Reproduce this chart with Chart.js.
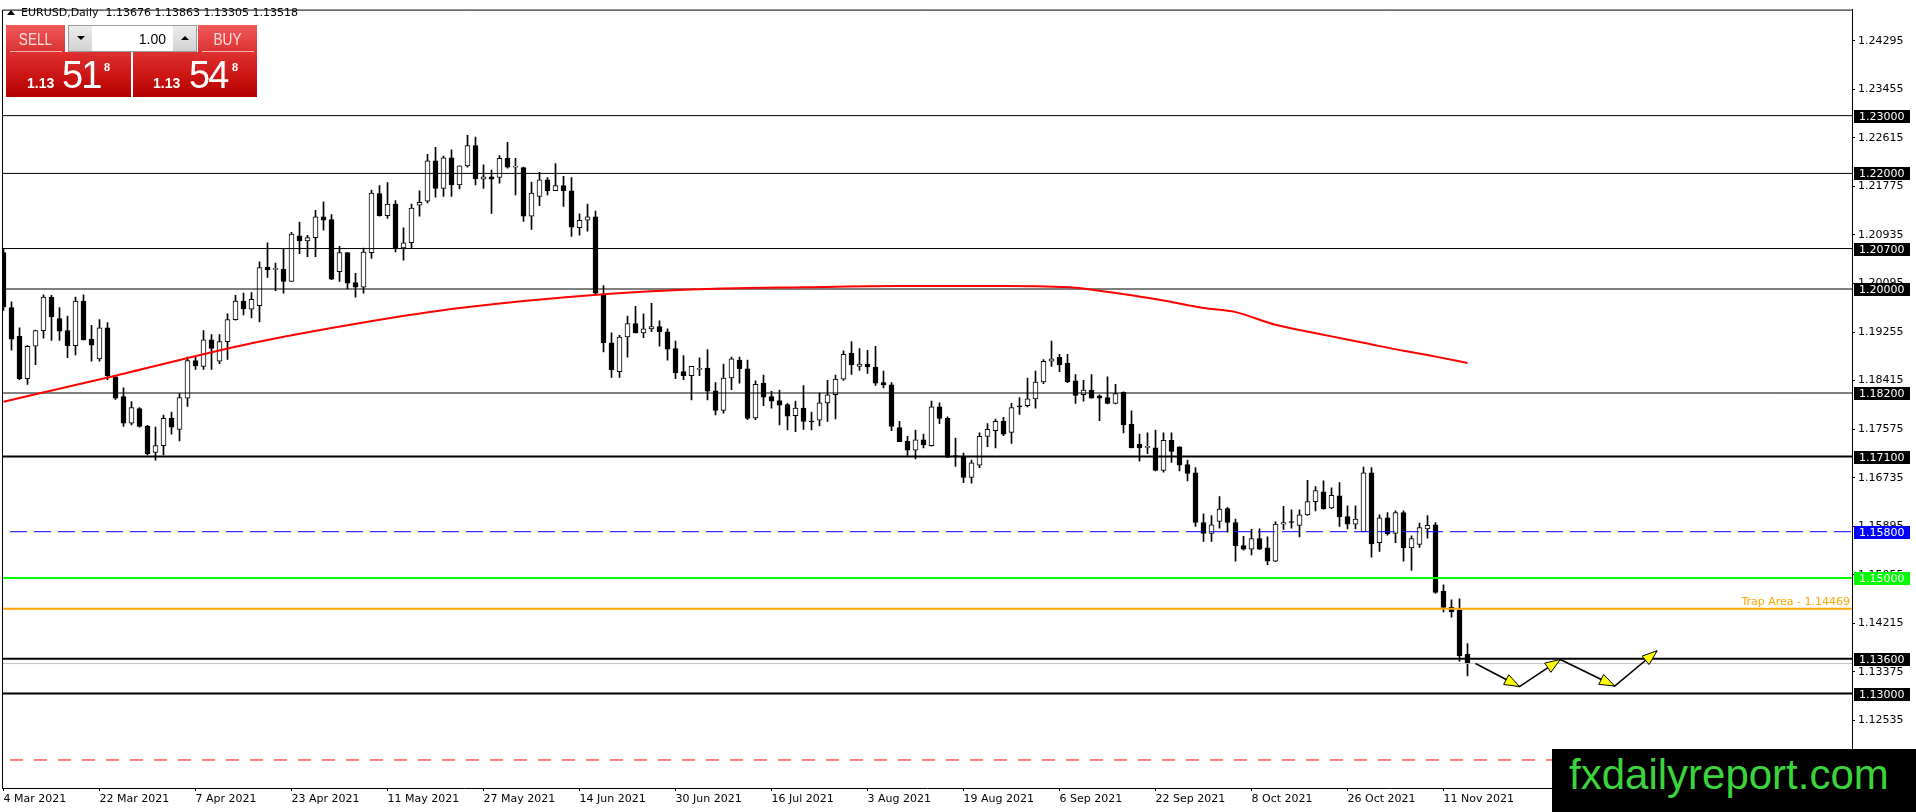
<!DOCTYPE html>
<html>
<head>
<meta charset="utf-8">
<script src="https://cdn.jsdelivr.net/npm/chart.js@4.4.0/dist/chart.umd.min.js"></script>
<style>
  html, body { margin: 0; padding: 0; background: #fff; }
  #wrap { position: relative; width: 1916px; height: 812px; overflow: hidden; font-family: "DejaVu Sans", sans-serif; }
  #chart { position: absolute; left: 0; top: 0; }
  #tri { position: absolute; left: 7px; top: 10px; width: 0; height: 0; border-left: 4px solid transparent; border-right: 4px solid transparent; border-bottom: 5px solid #000; }
  #title { position: absolute; left: 21px; top: 6px; font-size: 11px; line-height: 13px; color: #000; white-space: pre; }
  .btn { position: absolute; overflow: hidden; color: #fff; font-family: "Liberation Sans", Arial, sans-serif; }
  .top { background: linear-gradient(#f25a5a, #db3131); color: #ffdede; font-size: 16px; text-align: center; line-height: 1; }
  .top span { position: absolute; left: 0; right: 0; top: 7px; transform: scaleX(0.85); }
  .top:after { content: ""; position: absolute; left: 4px; right: 3px; top: 26px; height: 1px; background: #f6b4b4; }
  .low { background: linear-gradient(#df3030 0%, #cb1414 55%, #b30000 100%); }
  .low span { position: absolute; line-height: 1; white-space: pre; }
  .sm { font-size: 14px; font-weight: bold; top: 24px; }
  .big { font-size: 38px; top: 4px; letter-spacing: -2px; }
  .sup { font-size: 11px; font-weight: bold; top: 10px; }
  #lots { position: absolute; left: 68px; top: 25px; width: 127px; height: 25px; border: 1px solid #9c9c9c; background: #fff; }
  #lots .arr { position: absolute; top: 0; width: 23px; height: 25px; background: linear-gradient(#ececec, #d2d2d2); }
  #lots .arr i { position: absolute; left: 8px; top: 10px; width: 0; height: 0; border-left: 4px solid transparent; border-right: 4px solid transparent; }
  #lots .dn i { border-top: 4px solid #000; }
  #lots .up i { border-bottom: 4px solid #000; }
  #lots .fld { position: absolute; left: 24px; width: 73px; top: 6px; text-align: right; font: 14px "Liberation Sans", Arial, sans-serif; line-height: 1; }
  #wm { position: absolute; left: 1552px; top: 749px; width: 364px; height: 63px; background: #000; }
  #wm span { position: absolute; left: 17px; top: 5px; font: 42px "Liberation Sans", Arial, sans-serif; line-height: 1; color: #3bd43b; white-space: pre; }
</style>
</head>
<body>
<div id="wrap">
  <canvas id="chart" width="1916" height="812"></canvas>
  <div id="tri"></div>
  <div id="title">EURUSD,Daily  1.13676 1.13863 1.13305 1.13518</div>

  <div class="btn top" style="left:6px;top:25px;width:59px;height:27px;"><span>SELL</span></div>
  <div id="lots">
    <div class="arr dn" style="left:0;"><i></i></div>
    <div class="fld">1.00</div>
    <div class="arr up" style="right:0;"><i></i></div>
  </div>
  <div class="btn top" style="left:198px;top:25px;width:59px;height:27px;"><span>BUY</span></div>

  <div class="btn low" style="left:6px;top:52px;width:125px;height:45px;">
    <span class="sm" style="left:21px;">1.13</span><span class="big" style="left:56px;">51</span><span class="sup" style="left:98px;">8</span>
  </div>
  <div class="btn low" style="left:133px;top:52px;width:124px;height:45px;">
    <span class="sm" style="left:20px;">1.13</span><span class="big" style="left:56px;">54</span><span class="sup" style="left:99px;">8</span>
  </div>

  <div id="wm"><span>fxdailyreport.com</span></div>
</div>

<script>
// === Datos ===
const dateLabels = ["4 Mar 2021", "22 Mar 2021", "7 Apr 2021", "23 Apr 2021", "11 May 2021", "27 May 2021",
  "14 Jun 2021", "30 Jun 2021", "16 Jul 2021", "3 Aug 2021", "19 Aug 2021", "6 Sep 2021",
  "22 Sep 2021", "8 Oct 2021", "26 Oct 2021", "11 Nov 2021"];
const dateTickBars = [0, 12, 24, 36, 48, 60, 72, 84, 96, 108, 120, 132, 144, 156, 168, 180];

const priceTicks = [1.24295, 1.23455, 1.22615, 1.21775, 1.20935, 1.20095, 1.19255, 1.18415,
  1.17575, 1.16735, 1.15895, 1.15055, 1.14215, 1.13375, 1.12535, 1.11695];

const opens = [
  1.2063, 1.1968, 1.1918, 1.1845, 1.1901, 1.1928, 1.1986, 1.1949, 1.1928, 1.1902,
  1.1979, 1.1913, 1.1879, 1.1933, 1.1848, 1.1814, 1.1768, 1.1793, 1.1763, 1.1717,
  1.1729, 1.1776, 1.1757, 1.1811, 1.1876, 1.1866, 1.1912, 1.1875, 1.1909, 1.1947,
  1.1979, 1.1965, 1.1971, 1.2038, 1.2034, 1.2034, 1.2013, 1.2092, 1.2083, 1.2089,
  1.2125, 1.2120, 1.2030, 1.2063, 1.2011, 1.2003, 1.2063, 1.2165, 1.2127, 1.2147,
  1.2071, 1.2080, 1.2145, 1.2152, 1.2222, 1.2174, 1.2227, 1.2180, 1.2213, 1.2248,
  1.2190, 1.2194, 1.2193, 1.2226, 1.2211, 1.2210, 1.2126, 1.2160, 1.2189, 1.2170,
  1.2179, 1.2170, 1.2106, 1.2119, 1.2125, 1.1991, 1.1907, 1.1857, 1.1917, 1.1940,
  1.1924, 1.1931, 1.1935, 1.1926, 1.1897, 1.1857, 1.1850, 1.1861, 1.1863, 1.1824,
  1.1790, 1.1846, 1.1877, 1.1862, 1.1777, 1.1837, 1.1814, 1.1807, 1.1800, 1.1781,
  1.1794, 1.1772, 1.1773, 1.1803, 1.1817, 1.1844, 1.1889, 1.1866, 1.1870, 1.1865,
  1.1838, 1.1834, 1.1760, 1.1737, 1.1721, 1.1739, 1.1729, 1.1796, 1.1776, 1.1711,
  1.1709, 1.1674, 1.1695, 1.1745, 1.1755, 1.1771, 1.1752, 1.1797, 1.1798, 1.1810,
  1.1839, 1.1875, 1.1882, 1.1872, 1.1841, 1.1817, 1.1825, 1.1815, 1.1812, 1.1802,
  1.1821, 1.1766, 1.1731, 1.1726, 1.1725, 1.1686, 1.1738, 1.1727, 1.1696, 1.1682,
  1.1596, 1.1577, 1.1598, 1.1620, 1.1596, 1.1556, 1.1550, 1.1568, 1.1552, 1.1529,
  1.1593, 1.1597, 1.1591, 1.1609, 1.1632, 1.1649, 1.1621, 1.1642, 1.1606, 1.1593,
  1.1580, 1.1682, 1.1561, 1.1604, 1.1577, 1.1613, 1.1552, 1.1558, 1.1585, 1.1592,
  1.1477, 1.1449, 1.1444, 1.13676];
const highs = [
  1.2070, 1.1978, 1.1933, 1.1902, 1.1929, 1.1990, 1.1989, 1.1968, 1.1953, 1.1986,
  1.1990, 1.1937, 1.1947, 1.1942, 1.1850, 1.1829, 1.1805, 1.1795, 1.1764, 1.1761,
  1.1782, 1.1787, 1.1819, 1.1882, 1.1882, 1.1928, 1.1921, 1.1921, 1.1957, 1.1989,
  1.1993, 1.1994, 1.2047, 1.2080, 1.2045, 1.2070, 1.2098, 1.2116, 1.2093, 1.2136,
  1.2151, 1.2129, 1.2074, 1.2063, 1.2027, 1.2071, 1.2171, 1.2179, 1.2184, 1.2153,
  1.2106, 1.2147, 1.2170, 1.2233, 1.2245, 1.2230, 1.2241, 1.2213, 1.2266, 1.2263,
  1.2215, 1.2206, 1.2231, 1.2254, 1.2226, 1.2211, 1.2185, 1.2202, 1.2193, 1.2217,
  1.2195, 1.2193, 1.2130, 1.2147, 1.2135, 1.2006, 1.1924, 1.1920, 1.1953, 1.1970,
  1.1957, 1.1975, 1.1945, 1.1931, 1.1910, 1.1885, 1.1866, 1.1881, 1.1895, 1.1838,
  1.1870, 1.1882, 1.1882, 1.1877, 1.1841, 1.1851, 1.1823, 1.1825, 1.1802, 1.1806,
  1.1833, 1.1787, 1.1820, 1.1842, 1.1851, 1.1893, 1.1909, 1.1897, 1.1894, 1.1901,
  1.1858, 1.1838, 1.1771, 1.1745, 1.1756, 1.1749, 1.1806, 1.1803, 1.1779, 1.1742,
  1.1716, 1.1704, 1.1751, 1.1767, 1.1775, 1.1778, 1.1802, 1.1812, 1.1846, 1.1858,
  1.1878, 1.1910, 1.1887, 1.1887, 1.1852, 1.1842, 1.1852, 1.1817, 1.1848, 1.1835,
  1.1822, 1.1789, 1.1749, 1.1751, 1.1756, 1.1751, 1.1751, 1.1727, 1.1704, 1.1691,
  1.1611, 1.1608, 1.1641, 1.1622, 1.1602, 1.1572, 1.1584, 1.1585, 1.1571, 1.1597,
  1.1624, 1.1618, 1.1618, 1.1669, 1.1658, 1.1668, 1.1656, 1.1665, 1.1625, 1.1625,
  1.1692, 1.1691, 1.1609, 1.1613, 1.1616, 1.1616, 1.1573, 1.1595, 1.1608, 1.1596,
  1.1488, 1.1462, 1.1464, 1.13863];
const lows = [
  1.1963, 1.1894, 1.1843, 1.1835, 1.1869, 1.1915, 1.1911, 1.1911, 1.1881, 1.1886,
  1.1912, 1.1875, 1.1875, 1.1843, 1.1809, 1.1762, 1.1765, 1.1761, 1.1713, 1.1704,
  1.1713, 1.1749, 1.1737, 1.1797, 1.1861, 1.1861, 1.1861, 1.1871, 1.1878, 1.1946,
  1.1955, 1.1950, 1.1943, 1.2020, 1.1997, 1.1993, 1.2013, 1.2061, 1.2056, 1.2056,
  1.2102, 1.2016, 1.2013, 1.2000, 1.1986, 1.1993, 1.2053, 1.2126, 1.2122, 1.2064,
  1.2050, 1.2070, 1.2126, 1.2149, 1.2159, 1.2160, 1.2160, 1.2173, 1.2211, 1.2180,
  1.2174, 1.2131, 1.2183, 1.2209, 1.2163, 1.2117, 1.2103, 1.2144, 1.2163, 1.2170,
  1.2143, 1.2091, 1.2093, 1.2100, 1.1992, 1.1891, 1.1847, 1.1847, 1.1882, 1.1924,
  1.1916, 1.1926, 1.1901, 1.1877, 1.1845, 1.1843, 1.1808, 1.1850, 1.1808, 1.1782,
  1.1785, 1.1826, 1.1837, 1.1774, 1.1774, 1.1798, 1.1794, 1.1765, 1.1756, 1.1753,
  1.1757, 1.1756, 1.1763, 1.1771, 1.1775, 1.1842, 1.1852, 1.1859, 1.1854, 1.1833,
  1.1829, 1.1755, 1.1736, 1.1712, 1.1706, 1.1725, 1.1728, 1.1767, 1.1708, 1.1693,
  1.1665, 1.1664, 1.1691, 1.1727, 1.1725, 1.1746, 1.1733, 1.1783, 1.1796, 1.1794,
  1.1836, 1.1866, 1.1857, 1.1838, 1.1802, 1.1806, 1.1811, 1.1772, 1.1801, 1.1801,
  1.1751, 1.1725, 1.1702, 1.1715, 1.1685, 1.1683, 1.1700, 1.1685, 1.1668, 1.1589,
  1.1563, 1.1563, 1.1586, 1.1579, 1.1529, 1.1548, 1.1540, 1.1549, 1.1523, 1.1528,
  1.1584, 1.1586, 1.1571, 1.1608, 1.1616, 1.1619, 1.1620, 1.1589, 1.1585, 1.1585,
  1.1580, 1.1536, 1.1546, 1.1574, 1.1561, 1.1529, 1.1513, 1.1553, 1.1569, 1.1473,
  1.1441, 1.1432, 1.1356, 1.13305];
const closes = [
  1.1969, 1.1913, 1.1845, 1.1901, 1.1928, 1.1986, 1.1952, 1.1927, 1.1902, 1.1979,
  1.1912, 1.1903, 1.1933, 1.1850, 1.1811, 1.1768, 1.1795, 1.1762, 1.1715, 1.1729,
  1.1776, 1.1761, 1.1812, 1.1876, 1.1867, 1.1912, 1.1897, 1.1909, 1.1947, 1.1979,
  1.1966, 1.1982, 1.2037, 1.2033, 1.2034, 1.2013, 1.2095, 1.2083, 1.2089, 1.2125,
  1.2119, 1.2017, 1.2063, 1.2010, 1.2003, 1.2064, 1.2166, 1.2127, 1.2147, 1.2070,
  1.2080, 1.2140, 1.2150, 1.2222, 1.2174, 1.2227, 1.2180, 1.2213, 1.2248, 1.2191,
  1.2194, 1.2190, 1.2226, 1.2211, 1.2212, 1.2126, 1.2166, 1.2189, 1.2170, 1.2179,
  1.2170, 1.2107, 1.2119, 1.2125, 1.1993, 1.1907, 1.1860, 1.1917, 1.1940, 1.1924,
  1.1931, 1.1935, 1.1926, 1.1896, 1.1855, 1.1850, 1.1866, 1.1862, 1.1823, 1.1790,
  1.1846, 1.1879, 1.1862, 1.1776, 1.1835, 1.1813, 1.1806, 1.1799, 1.1780, 1.1794,
  1.1771, 1.1770, 1.1803, 1.1817, 1.1844, 1.1887, 1.1869, 1.1870, 1.1865, 1.1837,
  1.1834, 1.1762, 1.1736, 1.1721, 1.1739, 1.1730, 1.1796, 1.1776, 1.1709, 1.1710,
  1.1674, 1.1699, 1.1745, 1.1757, 1.1771, 1.1749, 1.1795, 1.1796, 1.1810, 1.1839,
  1.1875, 1.1879, 1.1869, 1.1839, 1.1816, 1.1825, 1.1811, 1.1811, 1.1802, 1.1819,
  1.1765, 1.1725, 1.1725, 1.1727, 1.1686, 1.1738, 1.1719, 1.1695, 1.1681, 1.1596,
  1.1577, 1.1592, 1.1619, 1.1596, 1.1556, 1.1550, 1.1568, 1.1550, 1.1529, 1.1593,
  1.1596, 1.1596, 1.1609, 1.1632, 1.1651, 1.1620, 1.1643, 1.1606, 1.1593, 1.1602,
  1.1682, 1.1559, 1.1604, 1.1576, 1.1613, 1.1552, 1.1568, 1.1587, 1.1591, 1.1475,
  1.1449, 1.1441, 1.1365, 1.13518];

const maBars = [0, 14, 31, 45, 57, 75, 88, 100, 112, 125, 134, 137, 141, 145, 150, 154, 159, 162, 166, 170, 175, 179, 183];
const maValues = [1.1805, 1.1850, 1.1906, 1.1942, 1.1967, 1.1991, 1.2000, 1.2003, 1.2005, 1.2005, 1.2002, 1.1997,
  1.1989, 1.1980, 1.1967, 1.1960, 1.1938, 1.1929, 1.1918, 1.1907, 1.1893, 1.1883, 1.1872];

// camino de flechas (proyección)
const pathBars = [184.0, 189.5, 194.6, 201.4, 206.7];
const pathValues = [1.1352, 1.1312, 1.1359, 1.1313, 1.1374];

// niveles horizontales
const levelPrices = [1.2300, 1.2200, 1.2070, 1.2000, 1.1820, 1.1710, 1.1580, 1.1500, 1.14469, 1.1360, 1.1300, 1.1185];
const levelKinds = ["thin", "thin", "thin", "thin", "thin", "thick", "blue", "green", "trap", "thick", "thick", "red"];
const bidPrice = 1.13518;

// === Estilos ===
const X_MIN = -0.1875, X_MAX = 231.0625;
const Y_MIN = 1.11365, Y_MAX = 1.24835;
const LOOK = {
  thin:  { color: "#000000", width: 1, dash: [], box: "#000000" },
  thick: { color: "#000000", width: 2, dash: [], box: "#000000" },
  blue:  { color: "#0000ff", width: 1, dash: [17, 7], box: "#0000ff" },
  green: { color: "#00ff00", width: 2, dash: [], box: "#00ff00" },
  trap:  { color: "#ffa500", width: 2, dash: [], box: null },
  red:   { color: "#ff0000", width: 1, dash: [13, 11], box: null }
};
const FONT = "11px 'DejaVu Sans', sans-serif";

Chart.defaults.font.family = "'DejaVu Sans', sans-serif";
Chart.defaults.font.size = 11;
Chart.defaults.color = "#000";

const isUp = i => closes[i] >= opens[i];

const levelSets = levelPrices.map((p, k) => {
  const lk = LOOK[levelKinds[k]];
  return {
    type: "line",
    data: [{ x: X_MIN - 2, y: p }, { x: X_MAX + 2, y: p }],
    borderColor: lk.color, borderWidth: lk.width, borderDash: lk.dash,
    pointRadius: 0, order: 3
  };
});

const datasets = [
  {
    type: "bar",
    data: lows.map((l, i) => ({ x: i, y: [l, highs[i]] })),
    backgroundColor: "#000", borderWidth: 0, grouped: false,
    barPercentage: 1, categoryPercentage: 1, maxBarThickness: 1, order: 10
  },
  {
    type: "bar",
    data: opens.map((o, i) => ({ x: i, y: [o, closes[i]] })),
    backgroundColor: ctx => (isUp(ctx.dataIndex) ? "#ffffff" : "#000000"),
    borderColor: "#000", borderWidth: 1, borderSkipped: false, minBarLength: 1, grouped: false,
    barPercentage: 1, categoryPercentage: 1, maxBarThickness: 5, order: 9
  },
  {
    type: "line",
    data: [{ x: X_MIN - 2, y: bidPrice }, { x: X_MAX + 2, y: bidPrice }],
    borderColor: "#c0c0c0", borderWidth: 1, pointRadius: 0, order: 4
  },
  ...levelSets,
  {
    type: "line",
    data: maBars.map((b, i) => ({ x: b, y: maValues[i] })),
    borderColor: "#ff0000", borderWidth: 2, pointRadius: 0, cubicInterpolationMode: "monotone", order: 2
  },
  {
    type: "line",
    data: pathBars.map((b, i) => ({ x: b, y: pathValues[i] })),
    borderColor: "#000", borderWidth: 1.6, pointRadius: 0, tension: 0, order: 1
  }
];
const PATH_INDEX = datasets.length - 1;

const overlay = {
  id: "overlay",
  afterDatasetsDraw(chart) {
    const { ctx, scales: { y } } = chart;
    // puntas de flecha amarillas
    const pts = chart.getDatasetMeta(PATH_INDEX).data;
    ctx.save();
    for (let k = 1; k < pts.length; k++) {
      const a = pts[k - 1], b = pts[k];
      const ang = Math.atan2(b.y - a.y, b.x - a.x);
      const L = 15, W = 5.5, c = Math.cos(ang), s = Math.sin(ang);
      ctx.beginPath();
      ctx.moveTo(b.x, b.y);
      ctx.lineTo(b.x - L * c + W * s, b.y - L * s - W * c);
      ctx.lineTo(b.x - L * c - W * s, b.y - L * s + W * c);
      ctx.closePath();
      ctx.fillStyle = "#ffff00";
      ctx.fill();
      ctx.strokeStyle = "#000";
      ctx.lineWidth = 1;
      ctx.stroke();
    }
    // etiqueta de la zona trampa
    const k = levelKinds.indexOf("trap");
    const ty = y.getPixelForValue(levelPrices[k]);
    ctx.font = FONT;
    ctx.fillStyle = "#ffa500";
    ctx.textAlign = "right";
    ctx.textBaseline = "alphabetic";
    ctx.fillText("Trap Area - " + levelPrices[k].toFixed(5), chart.chartArea.right - 2, ty - 4);
    ctx.restore();
  },
  afterDraw(chart) {
    const { ctx, chartArea: a, scales: { y } } = chart;
    ctx.save();
    ctx.strokeStyle = "#000";
    ctx.lineWidth = 1;
    ctx.beginPath();
    ctx.moveTo(a.left + 0.5, a.bottom);
    ctx.lineTo(a.left + 0.5, a.top + 0.5);
    ctx.lineTo(a.right, a.top + 0.5);
    ctx.stroke();
    // cajas de precio en el eje
    ctx.font = FONT;
    ctx.textAlign = "left";
    ctx.textBaseline = "middle";
    levelPrices.forEach((p, k) => {
      const lk = LOOK[levelKinds[k]];
      if (!lk.box) return;
      const py = Math.round(y.getPixelForValue(p));
      ctx.fillStyle = lk.box;
      ctx.fillRect(a.right + 2, py - 6, 56, 13);
      ctx.fillStyle = "#fff";
      ctx.fillText(p.toFixed(5), a.right + 7, py + 1);
    });
    ctx.restore();
  }
};

new Chart(document.getElementById("chart"), {
  type: "bar",
  data: { datasets },
  options: {
    responsive: false,
    animation: false,
    devicePixelRatio: 1,
    events: [],
    layout: { padding: { left: 2, top: 3, right: 0, bottom: 0 } },
    plugins: { legend: { display: false }, tooltip: { enabled: false } },
    scales: {
      x: {
        type: "linear", min: X_MIN, max: X_MAX, offset: false,
        grid: { drawOnChartArea: false, drawTicks: true, tickLength: 3, color: "#000", offset: false },
        border: { display: true, color: "#000" },
        afterBuildTicks: s => { s.ticks = dateTickBars.map(v => ({ value: v })); },
        afterFit: s => { s.height = 24; },
        ticks: {
          autoSkip: false, maxRotation: 0, align: "start", padding: 2, color: "#000",
          callback: v => dateLabels[dateTickBars.indexOf(v)]
        }
      },
      y: {
        type: "linear", position: "right", min: Y_MIN, max: Y_MAX, beginAtZero: false,
        grid: { drawOnChartArea: false, drawTicks: true, tickLength: 3, color: "#000" },
        border: { display: true, color: "#000" },
        afterBuildTicks: s => { s.ticks = priceTicks.map(v => ({ value: v })); },
        afterFit: s => { s.width = 64; },
        ticks: { autoSkip: false, padding: 3, color: "#000", callback: v => v.toFixed(5) }
      }
    }
  },
  plugins: [overlay]
});
</script>
</body>
</html>
